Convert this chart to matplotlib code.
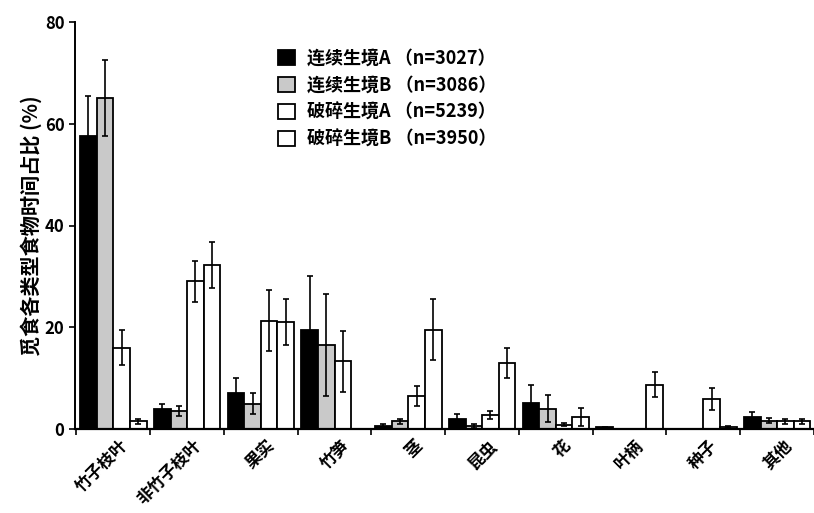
import numpy as np
import matplotlib
matplotlib.use("Agg")
import matplotlib.pyplot as plt
from matplotlib.transforms import ScaledTranslation

plt.rcParams['font.family'] = ['Noto Sans CJK SC', 'DejaVu Sans']

categories = ["竹子枝叶", "非竹子枝叶", "果实", "竹笋", "茎", "昆虫", "花", "叶柄", "种子", "其他"]
series_names = ["连续生境A （n=3027）", "连续生境B （n=3086）", "破碎生境A （n=5239）", "破碎生境B （n=3950）"]

cont_A = [57.5, 4.0, 7.0, 19.5, 0.6, 2.0, 5.2, 0.3, 0.0, 2.4]
cont_A_err = [8.0, 1.0, 3.0, 10.5, 0.3, 1.0, 3.5, 0.1, 0.0, 1.0]
cont_B = [65.0, 3.5, 5.0, 16.5, 1.5, 0.6, 4.0, 0.0, 0.0, 1.6]
cont_B_err = [7.5, 1.0, 2.0, 10.0, 0.5, 0.4, 2.7, 0.0, 0.0, 0.5]
frag_A = [16.0, 29.0, 21.3, 13.3, 6.5, 2.8, 0.8, 0.0, 5.9, 1.5]
frag_A_err = [3.5, 4.0, 6.0, 6.0, 2.0, 0.8, 0.3, 0.0, 2.2, 0.5]
frag_B = [1.5, 32.3, 21.0, 0.0, 19.5, 13.0, 2.4, 8.7, 0.4, 1.5]
frag_B_err = [0.5, 4.5, 4.5, 0.0, 6.0, 3.0, 1.8, 2.5, 0.2, 0.5]

values = [cont_A, cont_B, frag_A, frag_B]
errors = [cont_A_err, cont_B_err, frag_A_err, frag_B_err]
faces = ["black", "#c9c9c9", "white", "white"]

fig = plt.figure(figsize=(8.14, 5.13), dpi=100)
ax = fig.add_axes([75/814, 1 - 429/513, 1 - 75/814, (429 - 22)/513])

x = np.arange(len(categories))
w = 0.225
for k in range(4):
    pos = x + (k - 1.5) * w
    v = np.array(values[k])
    e = np.array(errors[k])
    ax.bar(pos, v, width=w, color=faces[k], edgecolor="black", linewidth=1.3,
           label=series_names[k], zorder=2)
    m = e > 0
    ax.errorbar(pos[m], v[m], yerr=e[m], fmt="none", ecolor="black",
                elinewidth=1.2, capsize=2.5, capthick=1.2, zorder=3)

ax.set_xlim(-0.52, 9.47)
ax.set_ylim(0, 80)
ax.set_yticks([0, 20, 40, 60, 80])
ax.tick_params(axis="y", direction="out", length=4, width=1.2, labelsize=12)
for lab in ax.get_yticklabels():
    lab.set_fontweight("bold")

ax.set_xticks(x)
ax.set_xticklabels(categories, rotation=45, ha="right", va="center",
                   rotation_mode="anchor", fontsize=12, fontweight="bold")
ax.tick_params(axis="x", length=0, pad=10)
off = ScaledTranslation(12/100, 0, fig.dpi_scale_trans)
for lab in ax.get_xticklabels():
    lab.set_transform(lab.get_transform() + off)
ax.set_xticks(np.arange(len(categories) + 1) - 0.5, minor=True)
ax.tick_params(axis="x", which="minor", direction="out", length=4, width=1.2)

for s in ["top", "right"]:
    ax.spines[s].set_visible(False)
ax.spines["left"].set_linewidth(1.4)
ax.spines["bottom"].set_linewidth(1.6)

ax.set_ylabel("觅食各类型食物时间占比 (%)", fontsize=14.5, fontweight="bold", labelpad=2)

fig.legend(loc="upper left", bbox_to_anchor=(262/814, 1 - 32/513), frameon=False,
           handlelength=0.9, handleheight=0.9, handletextpad=0.7,
           labelspacing=0.45, prop={"weight": "bold", "size": 13})

fig.savefig("out.png", dpi=100)
